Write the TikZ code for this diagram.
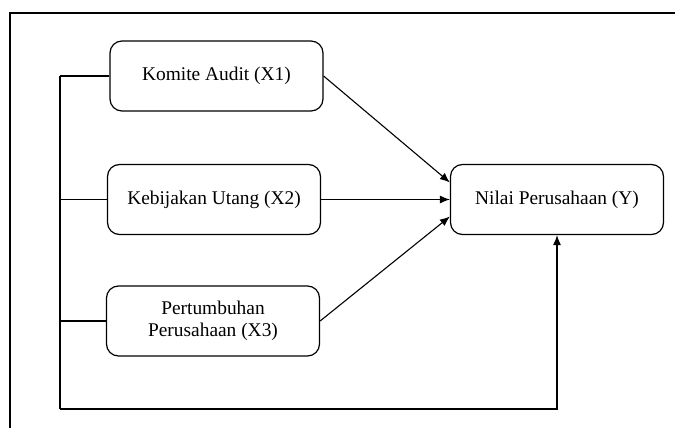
\documentclass[tikz,border=0pt]{standalone}
\usepackage{fontspec}
\setmainfont{Liberation Serif}
\usetikzlibrary{arrows.meta}

\tikzset{
    varbox/.style={draw, rounded corners=6pt, line width=0.6pt, minimum width=106.5pt,
        minimum height=35pt, align=center, font=\fontsize{9.7}{11}\selectfont},
    link/.style={line width=0.55pt},
    arr/.style={link, -{Latex[length=5pt,width=4pt]}}
}

\begin{document}
\begin{tikzpicture}[x=0.5pt, y=-0.5pt]

\useasboundingbox (0,0) rectangle (675,428);

% frame
\draw[line width=1.3pt] (10,428) -- (10,13) -- (675,13);

\node[varbox] (X1) at (216.5, 76) {Komite Audit (X1)};
\node[varbox] (X2) at (214, 199.5) {Kebijakan Utang (X2)};
\node[varbox] (X3) at (213, 321) {Pertumbuhan\\Perusahaan (X3)};
\node[varbox] (Y) at (557, 199.5) {Nilai Perusahaan (Y)};

% left bus
\coordinate (busTop) at (60, 76);
\coordinate (busBot) at (60, 409);

\draw[link] (busTop) -- (busBot);
\draw[link] (X1.west) -- (X1.west -| busTop);
\draw[link] (X2.west) -- (X2.west -| busTop);
\draw[link] (X3.west) -- (X3.west -| busTop);
\draw[arr] (busBot) -| (Y.south);

% paths to Y
\draw[arr] (X1.east) -- ([yshift=8.5pt]Y.west);
\draw[arr] (X2.east) -- (Y.west);
\draw[arr] (X3.east) -- ([yshift=-8.5pt]Y.west);

\end{tikzpicture}
\end{document}
